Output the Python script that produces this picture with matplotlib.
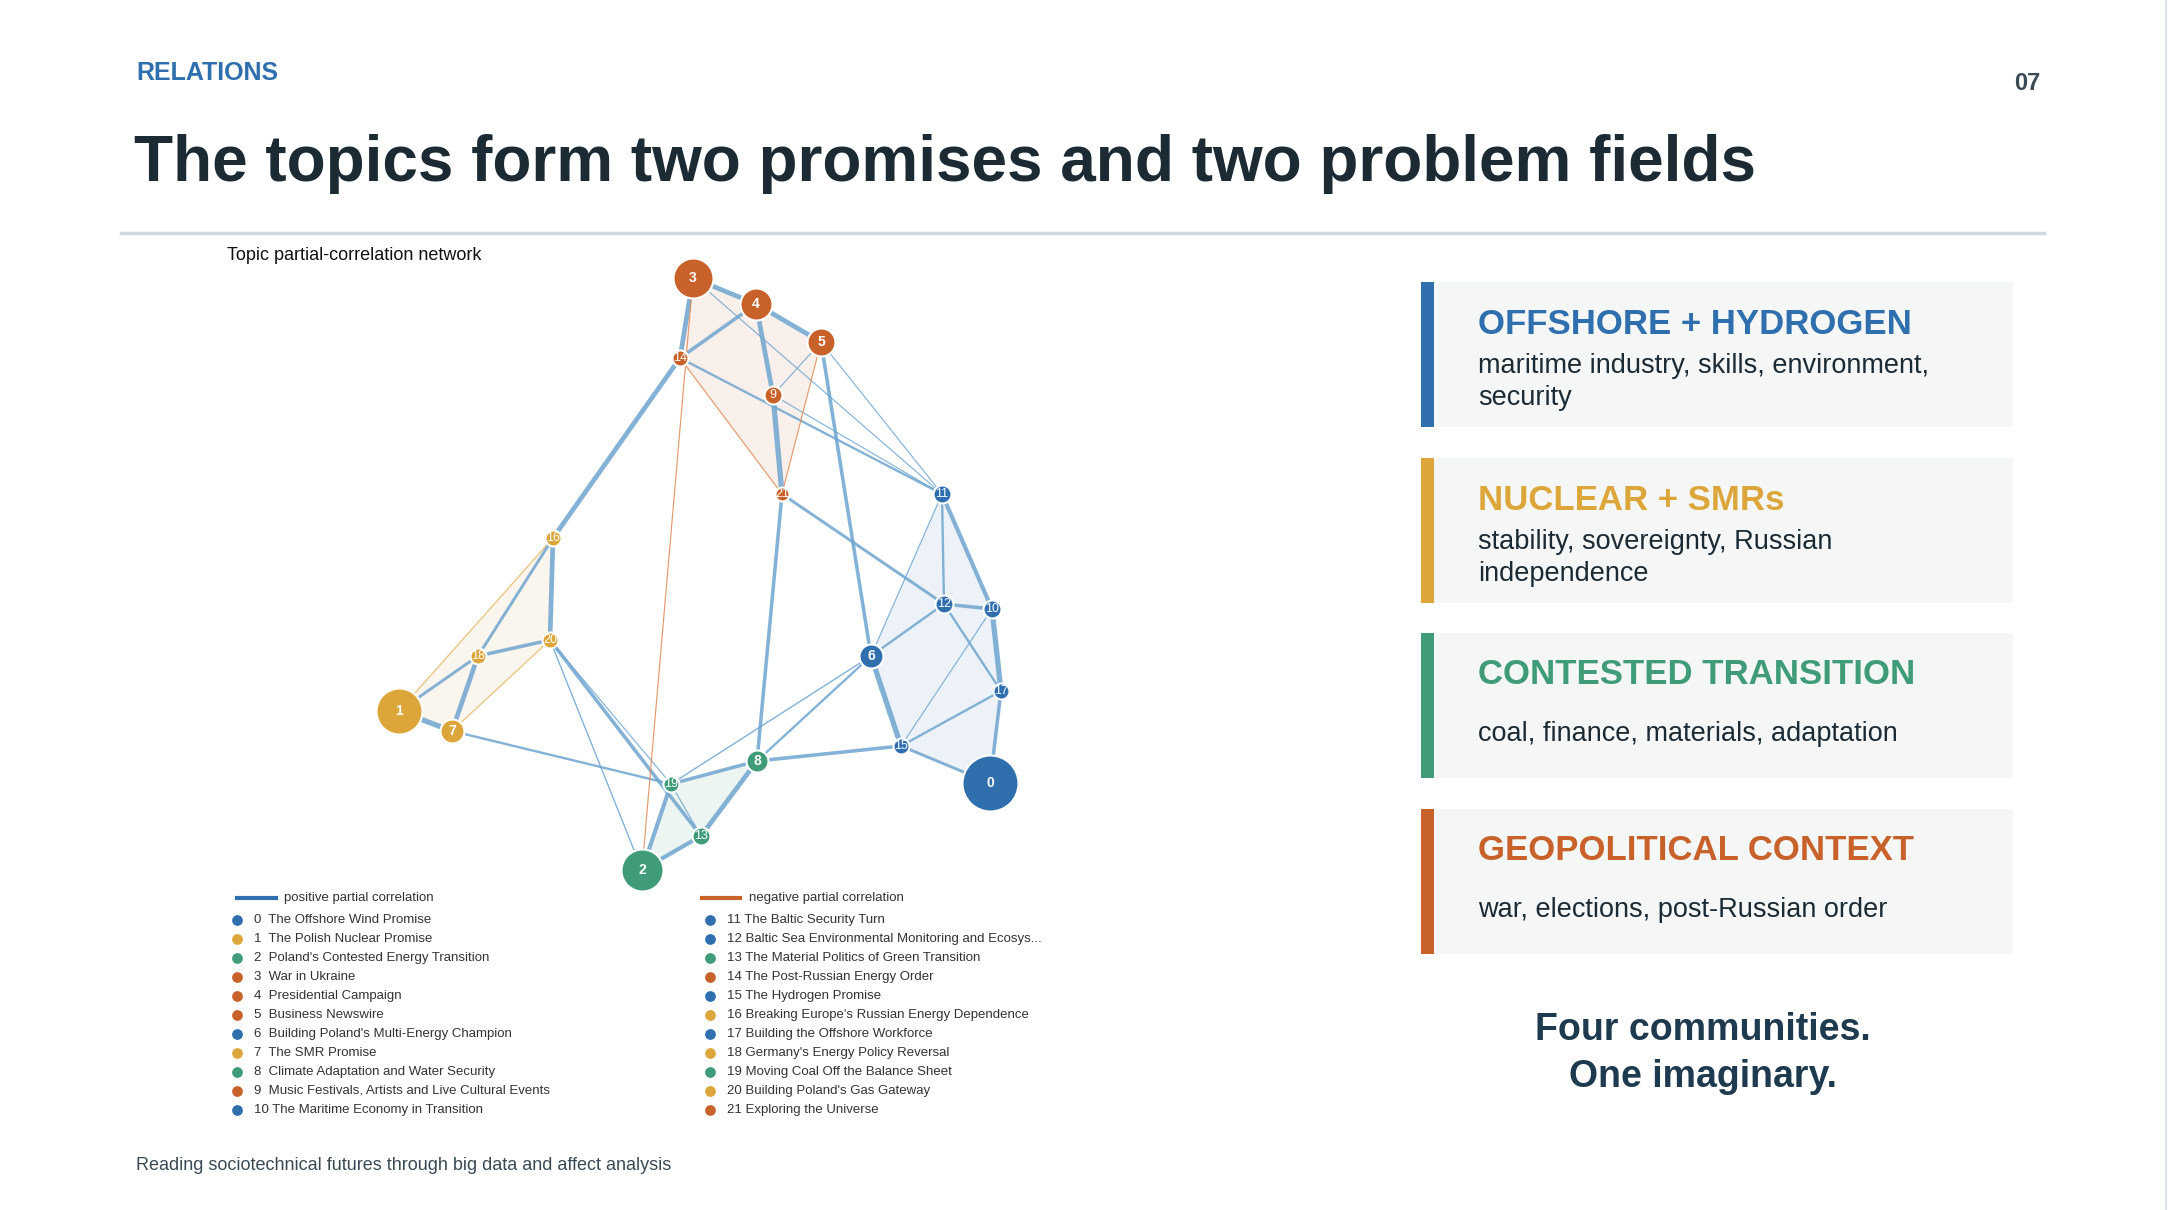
import matplotlib
matplotlib.use("Agg")
import matplotlib.pyplot as plt
from matplotlib.patches import Polygon, Rectangle

plt.rcParams['font.family'] = ['Liberation Sans', 'DejaVu Sans']

BLUE, ORANGE, YELLOW, GREEN = "#2f6fad", "#c8622a", "#dca63a", "#3f9b78"
comm_color = {"b": BLUE, "o": ORANGE, "y": YELLOW, "g": GREEN}

topics = ["The Offshore Wind Promise", "The Polish Nuclear Promise", "Poland's Contested Energy Transition",
          "War in Ukraine", "Presidential Campaign", "Business Newswire", "Building Poland's Multi-Energy Champion",
          "The SMR Promise", "Climate Adaptation and Water Security", "Music Festivals, Artists and Live Cultural Events",
          "The Maritime Economy in Transition", "The Baltic Security Turn",
          "Baltic Sea Environmental Monitoring and Ecosys...", "The Material Politics of Green Transition",
          "The Post-Russian Energy Order", "The Hydrogen Promise", "Breaking Europe's Russian Energy Dependence",
          "Building the Offshore Workforce", "Germany's Energy Policy Reversal", "Moving Coal Off the Balance Sheet",
          "Building Poland's Gas Gateway", "Exploring the Universe"]
community = ["b", "y", "g", "o", "o", "o", "b", "y", "g", "o", "b", "b", "b", "g", "o", "b", "y", "b", "y", "g", "y", "o"]
node_x = [990, 399, 642, 693, 756, 821, 871, 452, 757, 773, 992, 942, 944, 701, 680, 901, 553, 1001, 478, 671, 550, 782]
node_y = [783, 711, 870, 278, 304, 342, 656, 731, 761, 395, 609, 494, 604, 836, 358, 746, 538, 691, 656, 784, 640, 494]
node_r = [28, 23, 21, 20, 16, 14, 12, 12, 11, 9, 9, 9, 9, 9, 8, 8, 8, 8, 8, 8, 8, 7]

# (a, b, weight, sign)
edges = [(3, 14, 4, 1), (3, 4, 4, 1), (4, 5, 4, 1), (4, 14, 3, 1), (4, 9, 4, 1), (9, 21, 4.5, 1),
         (5, 9, 1, 1), (5, 6, 3, 1), (5, 11, 1, 1), (3, 11, 1, 1), (14, 11, 2, 1), (9, 11, 1, 1),
         (14, 16, 4, 1), (21, 12, 2.5, 1), (21, 8, 3, 1), (11, 12, 2, 1), (11, 10, 3.5, 1), (11, 6, 1, 1),
         (12, 10, 3, 1), (12, 6, 2, 1), (12, 17, 2, 1), (10, 17, 4.5, 1), (10, 15, 1, 1), (17, 15, 2, 1),
         (17, 0, 3, 1), (6, 15, 4.5, 1), (15, 0, 2.5, 1), (6, 19, 1.2, 1), (6, 8, 2, 1), (8, 15, 3, 1),
         (8, 19, 3, 1), (8, 13, 4, 1), (19, 2, 3.5, 1), (2, 13, 3.5, 1), (19, 13, 1, 1), (16, 20, 4, 1),
         (16, 18, 2.5, 1), (18, 1, 2.5, 1), (18, 20, 3, 1), (18, 7, 4, 1), (1, 7, 4.5, 1), (7, 19, 2, 1),
         (20, 13, 3, 1), (20, 19, 1, 1), (20, 2, 1.2, 1),
         (3, 2, 1, -1), (14, 21, 1, -1), (5, 21, 1, -1)]
hulls = {"o": [3, 4, 5, 21, 14], "y": [16, 20, 7, 1], "b": [11, 10, 17, 0, 15, 6], "g": [19, 8, 13, 2]}

panel_titles = ["OFFSHORE + HYDROGEN", "NUCLEAR + SMRs", "CONTESTED TRANSITION", "GEOPOLITICAL CONTEXT"]
panel_bodies = [["maritime industry, skills, environment,", "security"],
                ["stability, sovereignty, Russian", "independence"],
                ["coal, finance, materials, adaptation"],
                ["war, elections, post-Russian order"]]
panel_colors = [BLUE, YELLOW, GREEN, ORANGE]

fig = plt.figure(figsize=(21.7, 12.1), dpi=100)
ax = fig.add_axes([0, 0, 1, 1])
ax.set_xlim(0, 2170)
ax.set_ylim(1210, 0)
ax.axis("off")

def pt(px):
    return px * 0.72

# header
ax.text(136, 73, "RELATIONS", fontsize=18, fontweight="bold", color=BLUE, va="center")
ax.text(2040, 83, "07", fontsize=17, fontweight="bold", color="#3a4a55", va="center", ha="right")
ax.text(134, 164, "The topics form two promises and two problem fields", fontsize=46, fontweight="bold",
        color="#1b2a33", va="center")
ax.plot([121, 2044], [233, 233], color="#cfdbe0", lw=2.5)
ax.plot([2166, 2166], [0, 1210], color="#dde3e6", lw=1.5)
ax.text(227, 256, "Topic partial-correlation network", fontsize=13, color="#111", va="center")

# hulls
for c, idx in hulls.items():
    poly = Polygon([(node_x[i], node_y[i]) for i in idx], closed=True, facecolor=comm_color[c],
                   alpha=0.09, edgecolor="none", zorder=1)
    ax.add_patch(poly)
ax.plot([node_x[16], node_x[1]], [node_y[16], node_y[1]], color=YELLOW, lw=1, alpha=0.6, zorder=2)
ax.plot([node_x[20], node_x[7]], [node_y[20], node_y[7]], color=YELLOW, lw=1, alpha=0.6, zorder=2)

# edges
for a, b, w, s in edges:
    col = "#6fa5cf" if s > 0 else "#e08a55"
    ax.plot([node_x[a], node_x[b]], [node_y[a], node_y[b]], color=col, lw=w * 0.85,
            alpha=0.85, zorder=3, solid_capstyle="round")

# nodes
for i in range(len(topics)):
    ax.scatter(node_x[i], node_y[i], s=(2 * pt(node_r[i])) ** 2, color=comm_color[community[i]],
               edgecolors="white", linewidths=1.5, zorder=5)
    ax.text(node_x[i], node_y[i], str(i), fontsize=10 if node_r[i] > 10 else 9, color="white",
            ha="center", va="center", zorder=6, fontweight="bold" if node_r[i] > 10 else "normal")

# legend
ax.plot([237, 276], [898, 898], color=BLUE, lw=3)
ax.text(284, 898, "positive partial correlation", fontsize=9.5, color="#333", va="center")
ax.plot([702, 740], [898, 898], color=ORANGE, lw=3)
ax.text(749, 898, "negative partial correlation", fontsize=9.5, color="#333", va="center")
for i, name in enumerate(topics):
    col = 0 if i < 11 else 1
    row = i if i < 11 else i - 11
    y = 920 + row * 18.95
    dx = 237 if col == 0 else 710
    ax.scatter(dx, y, s=45, color=comm_color[community[i]], zorder=5)
    ax.text(dx + 17 if i >= 10 or col == 0 else dx + 17, y, f"{i}  {name}" if i < 10 else f"{i} {name}",
            fontsize=9.5, color="#333", va="center")

# footer
ax.text(136, 1165, "Reading sociotechnical futures through big data and affect analysis", fontsize=13,
        color="#3a4a55", va="center")

# panels
tops = [282, 458, 633, 809]
for k in range(4):
    t = tops[k]
    ax.add_patch(Rectangle((1421, t), 592, 145, facecolor="#f5f7f7", edgecolor="none", zorder=1))
    ax.add_patch(Rectangle((1421, t), 13, 145, facecolor=panel_colors[k], edgecolor="none", zorder=2))
    ax.text(1478, t + 42, panel_titles[k], fontsize=25, fontweight="bold", color=panel_colors[k],
            va="center", zorder=3)
    if len(panel_bodies[k]) == 2:
        for j, line in enumerate(panel_bodies[k]):
            ax.text(1478, t + 84 + 32 * j, line, fontsize=19.5, color="#1b2a33", va="center", zorder=3)
    else:
        ax.text(1478, t + 101, panel_bodies[k][0], fontsize=19.5, color="#1b2a33", va="center", zorder=3)

ax.text(1703, 1030, "Four communities.", fontsize=27, fontweight="bold", color="#1d3a4f", ha="center", va="center")
ax.text(1703, 1077, "One imaginary.", fontsize=27, fontweight="bold", color="#1d3a4f", ha="center", va="center")

fig.savefig("out.png", dpi=100)
